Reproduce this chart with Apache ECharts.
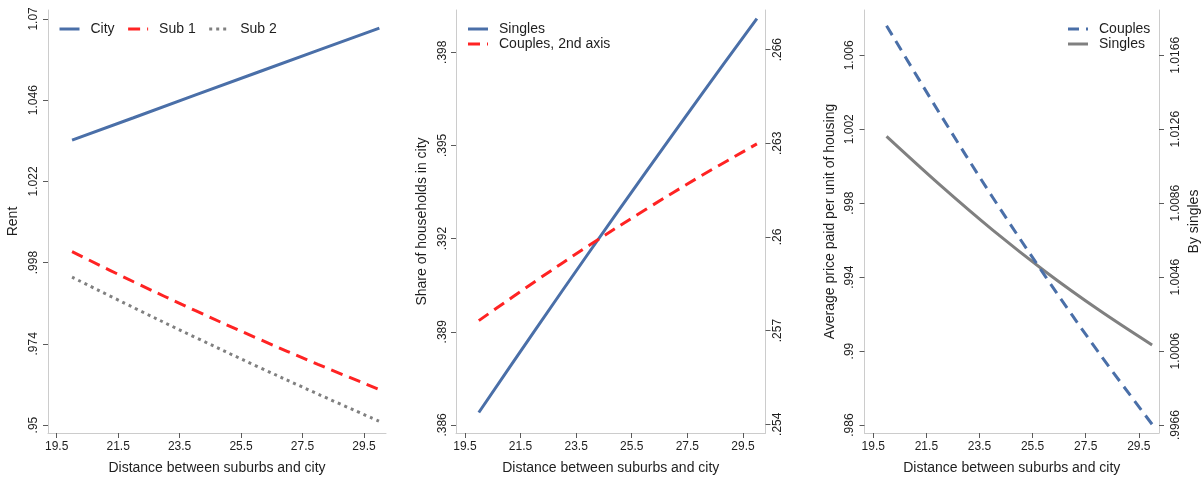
<!DOCTYPE html>
<html>
<head>
<meta charset="utf-8">
<title>Rent, household shares and housing prices by distance</title>
<script src="https://cdn.jsdelivr.net/npm/echarts@6/dist/echarts.min.js"></script>
<style>
  html, body { margin: 0; padding: 0; background: #ffffff; }
  #chart { width: 1203px; height: 480px; }
</style>
</head>
<body>
<div id="chart"></div>
<script>
// Distance between suburbs and city (shared x values for every panel)
const distance = [20, 22, 24, 26, 28, 30];

// Panel 1: rents
const rentCity = [1.0342, 1.0408, 1.0475, 1.0541, 1.0607, 1.0673];
const rentSub1 = [1.00122, 0.99235, 0.98386, 0.97573, 0.96794, 0.96051];
const rentSub2 = [0.99370, 0.98471, 0.97596, 0.96744, 0.95916, 0.95111];

// Panel 2: share of households in city
const shareSingles = [0.38640, 0.38902, 0.39160, 0.39413, 0.39663, 0.39908];
const shareCouples = [0.25732, 0.25856, 0.25975, 0.26088, 0.26196, 0.26298];

// Panel 3: average price paid per unit of housing
const priceCouples = [1.00760, 1.00286, 0.99831, 0.99400, 0.98990, 0.98604];
const priceSingles = [1.01221, 1.00960, 1.00714, 1.00488, 1.00282, 1.00093];

// Tick values
const distanceTicks = [19.5, 21.5, 23.5, 25.5, 27.5, 29.5];
const rentTicks = [0.95, 0.974, 0.998, 1.022, 1.046, 1.07];
const shareSinglesTicks = [0.386, 0.389, 0.392, 0.395, 0.398];
const shareCouplesTicks = [0.254, 0.257, 0.26, 0.263, 0.266];
const priceCouplesTicks = [0.986, 0.99, 0.994, 0.998, 1.002, 1.006];
const priceSinglesTicks = [0.9966, 1.0006, 1.0046, 1.0086, 1.0126, 1.0166];

const FONT = '"Liberation Sans", Arimo, Arial, sans-serif';
const TEXT = '#1e1e1e';
const AXIS_LINE = '#cccccc';
const TICK = '#5a5a5a';
const BLUE = '#4a6fa8';
const RED = '#ff2323';
const GRAY = '#808080';

const pairs = (xs, ys) => xs.map((x, i) => [x, ys[i]]);
// Stata-style labels: drop the leading zero (0.998 -> .998)
const stripZero = v => String(v).replace(/^0\./, '.');

function xAxis(gridIndex, min, max) {
  return {
    type: 'value', gridIndex, min, max,
    name: 'Distance between suburbs and city',
    nameLocation: 'middle', nameGap: 28,
    nameTextStyle: { fontFamily: FONT, fontSize: 14, color: TEXT },
    axisLine: { show: true, onZero: false, lineStyle: { color: AXIS_LINE, width: 1 } },
    axisTick: { show: true, length: 5, customValues: distanceTicks, lineStyle: { color: TICK } },
    axisLabel: { customValues: distanceTicks, margin: 8, fontFamily: FONT, fontSize: 12, color: TEXT,
                 formatter: v => String(v) },
    splitLine: { show: false }
  };
}

function yAxis(gridIndex, position, min, max, ticks, name, nameGap, margin) {
  return {
    type: 'value', gridIndex, position, min, max,
    name, nameLocation: 'middle', nameGap,
    nameTextStyle: { fontFamily: FONT, fontSize: 14, color: TEXT },
    axisLine: { show: true, onZero: false, lineStyle: { color: AXIS_LINE, width: 1 } },
    axisTick: { show: true, length: 5, customValues: ticks, lineStyle: { color: TICK } },
    axisLabel: { customValues: ticks, rotate: 90, margin, fontFamily: FONT, fontSize: 12, color: TEXT,
                 formatter: v => stripZero(v) },
    splitLine: { show: false }
  };
}

function lineSeries(name, xi, yi, ys, color, type, z, smooth) {
  return {
    name, type: 'line', xAxisIndex: xi, yAxisIndex: yi,
    data: pairs(distance, ys),
    symbol: 'none', showSymbol: false, smooth: smooth ? 0.35 : false, z,
    lineStyle: { color, width: 3, type, cap: 'butt' },
    itemStyle: { color },
    emphasis: { disabled: true }
  };
}

// Legend keys show only the line sample, no marker
function legend(names, orient, left, top, itemGap) {
  return {
    data: names, orient, left, top, padding: 0,
    itemWidth: 20, itemHeight: 14, itemGap,
    itemStyle: { opacity: 0 },
    lineStyle: { width: 3 },
    textStyle: { fontFamily: FONT, fontSize: 14, color: TEXT, padding: [0, 0, 0, 6] },
    selectedMode: false
  };
}

const chart = echarts.init(document.getElementById('chart'), null, { renderer: 'canvas' });
chart.setOption({
  animation: false,
  backgroundColor: '#ffffff',
  grid: [
    { left: 48, right: 817, top: 10, bottom: 43 },
    { left: 456, right: 437.5, top: 10, bottom: 43 },
    { left: 864.5, right: 44, top: 10, bottom: 43 }
  ],
  xAxis: [
    xAxis(0, 19.217, 30.216),
    xAxis(1, 19.18, 30.31),
    xAxis(2, 19.17, 30.26)
  ],
  yAxis: [
    yAxis(0, 'left', 0.94766, 1.07263, rentTicks, 'Rent', 28, 8),
    yAxis(1, 'left', 0.38574, 0.39936, shareSinglesTicks, 'Share of households in city', 27, 7),
    yAxis(1, 'right', 0.25372, 0.26727, shareCouplesTicks, '', 28, 6),
    yAxis(2, 'left', 0.98557, 1.00845, priceCouplesTicks, 'Average price paid per unit of housing', 27, 9),
    yAxis(2, 'right', 0.99617, 1.01905, priceSinglesTicks, 'By singles', 28, 11)
  ],
  legend: [
    legend(['City', 'Sub 1', 'Sub 2'], 'horizontal', 58, 22, 12),
    legend(['Singles', 'Couples, 2nd axis'], 'vertical', 466.5, 22, 1),
    legend(['Couples', 'Singles '], 'vertical', 1066.5, 22, 1)
  ],
  series: [
    lineSeries('City', 0, 0, rentCity, BLUE, 'solid', 3, false),
    lineSeries('Sub 1', 0, 0, rentSub1, RED, [12, 7], 3, true),
    lineSeries('Sub 2', 0, 0, rentSub2, GRAY, [3, 4], 3, true),
    lineSeries('Singles', 1, 1, shareSingles, BLUE, 'solid', 3, true),
    lineSeries('Couples, 2nd axis', 1, 2, shareCouples, RED, [12, 7], 4, true),
    lineSeries('Singles ', 2, 4, priceSingles, GRAY, 'solid', 3, true),
    lineSeries('Couples', 2, 3, priceCouples, BLUE, [11, 7], 4, true)
  ]
});
</script>
</body>
</html>
